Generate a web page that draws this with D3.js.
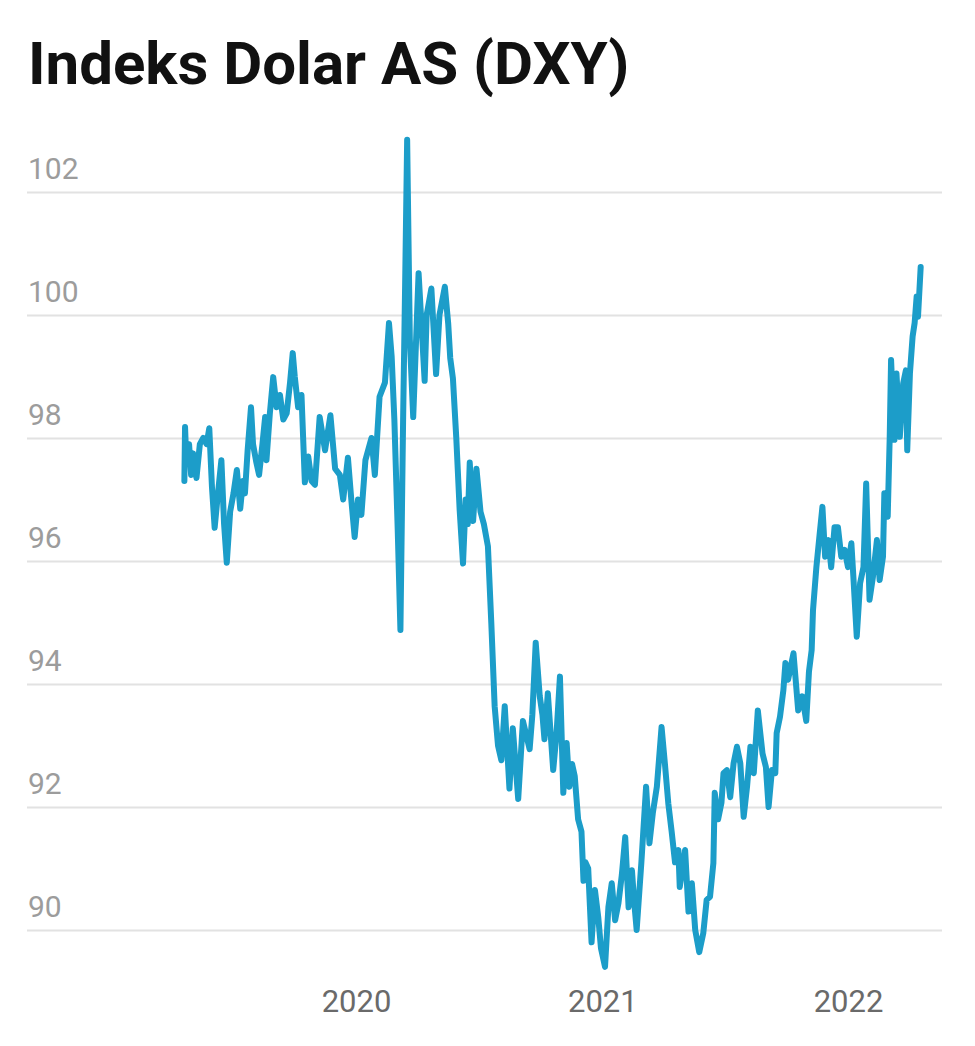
<!DOCTYPE html>
<html>
<head>
<meta charset="utf-8">
<script src="https://cdn.jsdelivr.net/npm/d3@7"></script>
<style>
  html, body { margin: 0; padding: 0; background: #ffffff; }
  svg { display: block; }
</style>
</head>
<body>
<svg id="chart" width="975" height="1046"></svg>
<script>
const title = "Indeks Dolar AS (DXY)";

const dates = [
  "2019-04-21","2019-04-22","2019-04-24","2019-04-28","2019-05-01","2019-05-04","2019-05-09","2019-05-14","2019-05-19","2019-05-24",
  "2019-05-28","2019-06-01","2019-06-05","2019-06-09","2019-06-15","2019-06-19","2019-06-23","2019-06-28","2019-07-03","2019-07-08",
  "2019-07-13","2019-07-17","2019-07-20","2019-07-24","2019-07-29","2019-08-01","2019-08-06","2019-08-10","2019-08-15","2019-08-19",
  "2019-08-21","2019-08-26","2019-08-31","2019-09-05","2019-09-10","2019-09-15","2019-09-20","2019-09-25","2019-09-29","2019-10-02",
  "2019-10-07","2019-10-12","2019-10-17","2019-10-22","2019-10-27","2019-11-01","2019-11-08","2019-11-16","2019-11-24","2019-12-01",
  "2019-12-08","2019-12-13","2019-12-20","2019-12-25","2019-12-30",
  "2020-01-04","2020-01-09","2020-01-15","2020-01-24","2020-01-29","2020-02-05","2020-02-13","2020-02-19","2020-02-23","2020-02-27",
  "2020-03-03","2020-03-07","2020-03-11","2020-03-14","2020-03-17","2020-03-21","2020-03-26","2020-04-03","2020-04-12","2020-04-15",
  "2020-04-22","2020-04-29","2020-05-04","2020-05-12","2020-05-17","2020-05-20","2020-05-24","2020-05-29","2020-06-03","2020-06-08",
  "2020-06-12","2020-06-15","2020-06-18","2020-06-23","2020-06-28","2020-07-04","2020-07-09","2020-07-15","2020-07-20","2020-07-25",
  "2020-07-30","2020-08-04","2020-08-09","2020-08-16","2020-08-21","2020-08-29","2020-09-05","2020-09-15","2020-09-19","2020-09-24",
  "2020-09-30","2020-10-04","2020-10-07","2020-10-12","2020-10-20","2020-10-25","2020-10-30","2020-11-04","2020-11-09","2020-11-13",
  "2020-11-17","2020-11-21","2020-11-26","2020-12-01","2020-12-04","2020-12-07","2020-12-11","2020-12-16","2020-12-21","2020-12-26",
  "2020-12-30",
  "2021-01-05","2021-01-10","2021-01-15","2021-01-20","2021-01-25","2021-01-30","2021-02-04","2021-02-09","2021-02-14","2021-02-17",
  "2021-02-21","2021-02-28","2021-03-07","2021-03-12","2021-03-17","2021-03-23","2021-03-30","2021-04-04","2021-04-09","2021-04-14",
  "2021-04-19","2021-04-24","2021-04-26","2021-05-04","2021-05-09","2021-05-14","2021-05-19","2021-05-25","2021-05-31","2021-06-05",
  "2021-06-10","2021-06-15","2021-06-17","2021-06-22","2021-06-27","2021-06-30","2021-07-05","2021-07-10","2021-07-15","2021-07-20",
  "2021-07-25","2021-07-30","2021-08-04","2021-08-09","2021-08-14","2021-08-20","2021-08-27","2021-09-01","2021-09-05","2021-09-10",
  "2021-09-15","2021-09-17","2021-09-22","2021-09-27","2021-09-30","2021-10-04","2021-10-12","2021-10-19","2021-10-25","2021-10-31",
  "2021-11-04","2021-11-08","2021-11-10","2021-11-15","2021-11-20","2021-11-24","2021-11-28","2021-12-03","2021-12-07","2021-12-12",
  "2021-12-17","2021-12-22","2021-12-27",
  "2022-01-01","2022-01-06","2022-01-09","2022-01-14","2022-01-19","2022-01-24","2022-01-28","2022-02-02","2022-02-07","2022-02-13",
  "2022-02-17","2022-02-22","2022-02-24","2022-03-01","2022-03-04","2022-03-06","2022-03-11","2022-03-14","2022-03-19","2022-03-24",
  "2022-03-28","2022-03-30","2022-04-03","2022-04-07","2022-04-10","2022-04-13","2022-04-15","2022-04-19"
];

const values = [
  97.30,98.18,97.60,97.90,97.40,97.75,97.35,97.90,98.00,97.90,
  98.16,97.20,96.54,97.00,97.64,96.60,95.97,96.80,97.10,97.48,
  96.85,97.30,97.10,97.80,98.50,97.90,97.60,97.40,97.90,98.34,
  97.64,98.40,98.99,98.50,98.70,98.30,98.40,98.90,99.38,99.00,
  98.50,98.70,97.28,97.70,97.30,97.24,98.34,97.80,98.37,97.50,
  97.40,97.00,97.68,97.00,96.39,
  97.00,96.75,97.64,98.00,97.40,98.67,98.90,99.87,99.32,98.30,
  96.50,94.88,98.30,100.50,102.85,99.60,98.34,100.68,98.93,100.00,
  100.43,99.04,100.00,100.46,99.86,99.30,98.97,98.00,96.83,95.96,
  97.00,96.60,97.60,96.65,97.50,96.80,96.60,96.24,95.00,93.64,
  93.00,92.76,93.64,92.30,93.28,92.13,93.40,92.94,93.50,94.67,
  93.80,93.50,93.10,93.85,92.60,93.20,94.12,92.23,93.04,92.33,
  92.70,92.50,91.80,91.60,90.80,91.10,91.00,89.80,90.65,90.20,
  89.70,
  89.40,90.37,90.76,90.16,90.44,90.90,91.51,90.37,90.97,90.50,
  90.00,91.10,92.33,91.41,91.90,92.33,93.30,92.70,92.06,91.60,
  91.10,91.30,90.70,91.30,90.30,90.76,90.00,89.64,89.95,90.49,
  90.54,91.09,92.23,91.80,92.07,92.55,92.60,92.16,92.71,92.98,
  92.71,91.84,92.33,92.98,92.55,93.57,92.87,92.65,92.00,92.60,
  92.55,93.20,93.47,93.90,94.34,94.07,94.50,93.57,93.80,93.40,
  94.20,94.55,95.20,95.90,96.45,96.88,96.07,96.34,95.90,96.55,
  96.55,96.07,96.18,
  95.90,96.29,95.74,94.77,95.64,95.90,97.26,95.37,95.74,96.34,
  95.69,96.07,97.10,96.72,98.02,99.27,97.97,99.05,98.02,98.89,
  99.10,97.80,99.05,99.65,99.87,100.30,99.97,100.78
];

const yTicks = [90, 92, 94, 96, 98, 100, 102];
const xTickYears = ["2020", "2021", "2022"];

const parse = d3.timeParse("%Y-%m-%d");
const data = dates.map((d, i) => ({ date: parse(d), value: values[i] }));

const svg = d3.select("#chart");

// scales: anchored on the year ticks and the value gridlines
const x = d3.scaleTime()
  .domain([parse("2020-01-01"), parse("2022-01-01")])
  .range([356, 848]);
const y = d3.scaleLinear()
  .domain([90, 102])
  .range([930, 192]);

const gridLeft = 27, gridRight = 942;

// title
svg.append("text")
  .attr("x", 28)
  .attr("y", 84)
  .attr("font-family", "Roboto, 'Noto Sans', sans-serif")
  .attr("font-weight", 700)
  .attr("font-size", 60)
  .attr("fill", "#111111")
  .text(title);

// y axis: gridlines with labels above them
const yAxis = d3.axisRight(y)
  .tickValues(yTicks)
  .tickSize(gridRight - gridLeft)
  .tickFormat(d3.format("d"));

const gy = svg.append("g")
  .attr("transform", `translate(${gridLeft},0)`)
  .call(yAxis);
gy.select(".domain").remove();
gy.selectAll(".tick line")
  .attr("stroke", "#e2e2e2")
  .attr("stroke-width", 2);
gy.selectAll(".tick text")
  .attr("x", 1)
  .attr("dy", -14)
  .attr("text-anchor", "start")
  .attr("font-family", "Roboto, 'Noto Sans', sans-serif")
  .attr("font-size", 30)
  .attr("fill", "#9c9c9c");

// x axis: year labels only
const xAxis = d3.axisBottom(x)
  .tickValues(xTickYears.map(yr => parse(yr + "-01-01")))
  .tickSize(0)
  .tickPadding(0)
  .tickFormat(d3.timeFormat("%Y"));

const gx = svg.append("g")
  .attr("transform", "translate(0,1012)")
  .call(xAxis);
gx.select(".domain").remove();
gx.selectAll(".tick text")
  .attr("y", 0)
  .attr("dy", 0)
  .attr("font-family", "Roboto, 'Noto Sans', sans-serif")
  .attr("font-size", 31)
  .attr("fill", "#6a6a6a");

// the series line
const line = d3.line()
  .x(d => x(d.date))
  .y(d => y(d.value));

svg.append("path")
  .datum(data)
  .attr("fill", "none")
  .attr("stroke", "#1c9dc9")
  .attr("stroke-width", 6)
  .attr("stroke-linejoin", "round")
  .attr("stroke-linecap", "round")
  .attr("d", line);
</script>
</body>
</html>
